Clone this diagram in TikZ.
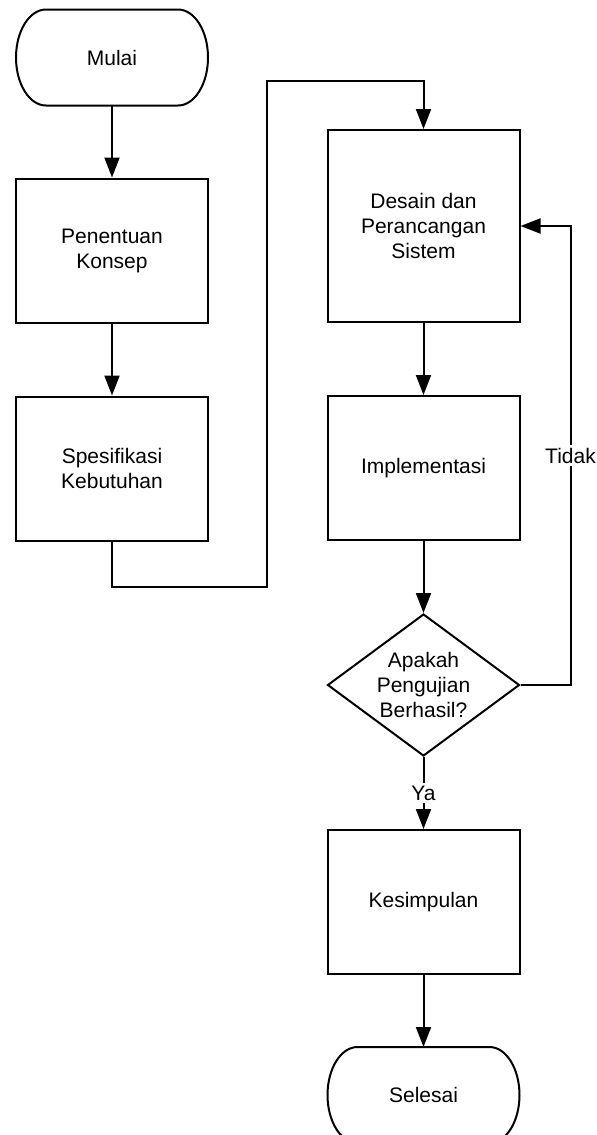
\documentclass[tikz,border=0pt]{standalone}
\usepackage{fontspec}
\setmainfont{Liberation Sans}
\usetikzlibrary{arrows.meta,positioning,shapes.geometric}
% outline of a start/end node, elliptic ends
\newcommand{\stadium}[1]{%
  \draw[line width=1pt] ([xshift=15pt]#1.north west) -- ([xshift=-15pt]#1.north east)
    arc[start angle=90,end angle=-90,x radius=15pt,y radius=24pt]
    -- ([xshift=15pt]#1.south west)
    arc[start angle=270,end angle=90,x radius=15pt,y radius=24pt] -- cycle;}

\begin{document}
\begin{tikzpicture}[
  x=0.5pt,y=-0.5pt,
  node distance=36pt,
  every node/.style={font=\fontsize{10.5pt}{12.5pt}\selectfont,align=center},
  box/.style={draw,line width=1pt,minimum width=96pt,minimum height=72pt,inner sep=2pt},
  term/.style={minimum width=96pt,minimum height=48pt,inner sep=0pt,outer sep=0pt},
  dec/.style={draw,diamond,aspect=1.35,line width=1pt,minimum width=96pt,minimum height=71pt,inner sep=0pt},
  arr/.style={-{Triangle[length=10pt,width=7.5pt]},line width=1pt},
  lbl/.style={fill=white,inner sep=1.5pt}
]
\useasboundingbox (0,0) rectangle (597,1135);

% left column
\node[term] (mulai) at (112,57.5) {Mulai};
\stadium{mulai}
\node[box,below=of mulai] (konsep) {Penentuan\\Konsep};
\node[box,below=of konsep] (spek) {Spesifikasi\\Kebutuhan};

% right column
\node[box,minimum height=96pt] (desain) at (423.5,226) {Desain dan\\Perancangan\\Sistem};
\node[box,below=of desain] (impl) {Implementasi};
\node[dec,below=of impl] (uji) {Apakah\\Pengujian\\Berhasil?};
\node[box,below=of uji] (kes) {Kesimpulan};
\node[term,below=of kes] (selesai) {Selesai};
\stadium{selesai}

\coordinate (belok) at (267,587);
\coordinate (atas) at (267,81);

\draw[arr] (mulai)--(konsep);
\draw[arr] (konsep)--(spek);
\draw[arr] (spek.south) |- (belok) -- (atas) -| (desain.north);
\draw[arr] (desain)--(impl);
\draw[arr] (impl)--(uji);
\draw[arr] (uji.east) -- ++(50,0) |- node[lbl,pos=0.25]{Tidak} (desain.east);
\draw[arr] (uji)--node[lbl]{Ya}(kes);
\draw[arr] (kes)--(selesai);
\end{tikzpicture}
\end{document}
